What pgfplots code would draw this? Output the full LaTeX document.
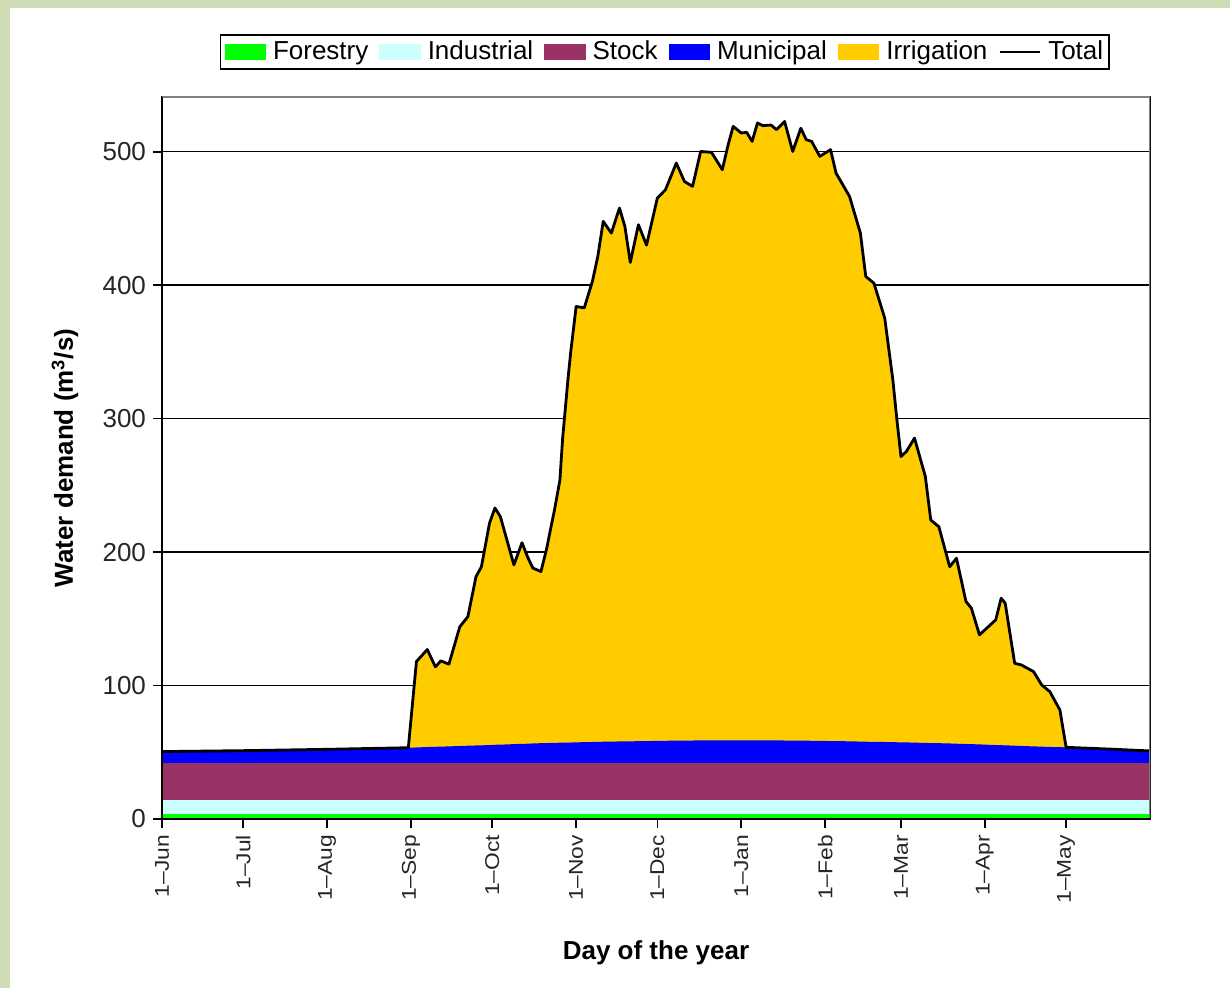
\documentclass[border=0pt]{standalone}
\usepackage{fontspec}
\setmainfont{Liberation Sans}
\usepackage{graphicx}
\usepackage{pgfplots}
\usepackage{pgfplotstable}
\pgfplotsset{compat=1.18}
\definecolor{bgframe}{HTML}{CFDCB6}
\definecolor{forest}{HTML}{00FF00}
\definecolor{indus}{HTML}{CCFFFF}
\definecolor{stock}{HTML}{993366}
\definecolor{munic}{HTML}{0000FF}
\definecolor{irrig}{HTML}{FFCC00}
% cumulative tops: mun = forestry+industrial+stock+municipal, total = all incl. irrigation
\pgfplotstableread{
day mun total
0 50.5 50.5
30 51.2 51.2
61 52.2 52.2
91 53.4 53.4
94 53.6 118
98 53.9 127
101 54.1 114
103 54.2 118.5
106 54.4 116
110 54.7 144
113 54.9 151.6
116 55.1 181.6
118 55.2 189
121 55.4 221.7
123 55.6 233
125 55.7 226.6
130 56.1 190.4
133 56.3 207
135 56.4 196.6
137 56.6 188
140 56.8 185.4
142 56.9 201.6
144 57.0 221.7
145 57.0 231.6
147 57.2 254
148 57.2 285
150 57.3 330
151 57.3 350
153 57.4 384
156 57.6 383
159 57.7 402.8
161 57.8 421.5
163 57.9 447.8
166 58.0 439
169 58.1 457.8
171 58.1 444
173 58.2 417
176 58.3 445.3
179 58.4 430
183 58.5 465.3
186 58.6 471.5
190 58.7 491.5
193 58.8 477.7
196 58.8 474
199 58.9 500.2
203 58.9 499.5
207 59.0 486.5
209 59.0 504
211 59.0 519
214 59.0 514
216 59.0 514.5
218 59.0 507.7
220 59.0 521.5
222 58.9 519.5
225 58.9 520
227 58.9 516.5
230 58.8 522.7
233 58.8 500.2
236 58.7 517.6
238 58.7 509
240 58.6 507.7
243 58.6 496.5
247 58.4 501.5
249 58.4 484
254 58.2 466.5
258 58.0 439
260 57.9 406.5
263 57.8 401.5
267 57.7 375.3
270 57.6 329
271.5 57.5 299
273 57.5 271.6
275 57.4 275.4
278 57.2 285.4
282 57.0 256.6
284 56.9 224
287 56.8 219
291 56.6 189
293.5 56.4 195.4
297 56.2 163
299 56.1 158
302 55.9 138
308 55.4 149.2
310 55.3 165.4
311.5 55.2 161.7
315 54.9 116.7
317.5 54.7 115.4
322 54.4 110.4
325 54.2 100.4
328 54.0 95.4
331.7 53.8 81.7
334 53.7 53.7
350 52.4 52.4
365 51.0 51.0
}\demand
\newcommand{\xl}[1]{\scalebox{1.14}[1]{#1}}
\begin{document}
\begin{tikzpicture}
\useasboundingbox (0,0) rectangle (615pt,494pt);
\fill[white] (0,0) rectangle (615pt,494pt);
\fill[bgframe] (0,490pt) rectangle (615pt,494pt);
\fill[bgframe] (0,0) rectangle (5pt,494pt);
\begin{axis}[
  at={(81pt,84.5pt)}, anchor=south west,
  scale only axis, width=494pt, height=361pt,
  xmin=0, xmax=365, ymin=0, ymax=541,
  xtick={0,30,61,92,122,153,183,214,245,273,304,334},
  xticklabels={\xl{1--Jun},\xl{1--Jul},\xl{1--Aug},\xl{1--Sep},\xl{1--Oct},\xl{1--Nov},\xl{1--Dec},\xl{1--Jan},\xl{1--Feb},\xl{1--Mar},\xl{1--Apr},\xl{1--May}},
  ytick={0,100,200,300,400,500},
  xtick pos=left, ytick pos=left,
  /pgf/number format/assume math mode=true,
  ymajorgrids, grid style={black, line width=0.7pt},
  axis line style={black, line width=0.8pt},
  tick align=outside,
  major tick length=4.5pt,
  xtick style={black, line width=0.8pt},
  ytick style={black, line width=0.8pt},
  xticklabel style={rotate=90, anchor=east, font=\fontsize{10}{12}\selectfont, color=black!85},
  yticklabel style={font=\fontsize{13}{15}\selectfont, color=black!85},
  xlabel={\bfseries Day of the year},
  ylabel={\bfseries Water demand (m\textsuperscript{3}/s)},
  xlabel style={at={(axis description cs:0.5,-0.1856)}, anchor=center, font=\fontsize{13}{15}\selectfont},
  ylabel style={at={(axis description cs:-0.0982,0.5)}, anchor=center, font=\fontsize{13}{15}\selectfont},
  legend columns=6,
  legend style={at={(axis description cs:0.509,1.0623)}, anchor=center,
    draw=black, line width=0.7pt, font=\fontsize{13}{15}\selectfont,
    inner sep=2pt, row sep=0pt, nodes={inner sep=1pt},
    /tikz/every odd column/.append style={column sep=2.5pt},
    /tikz/every even column/.append style={column sep=4.5pt}},
]
\addlegendimage{legend image code/.code={\fill[forest] (0pt,-3.5pt) rectangle (20pt,3.5pt);}}
\addlegendentry{Forestry}
\addlegendimage{legend image code/.code={\fill[indus] (0pt,-3.5pt) rectangle (20pt,3.5pt);}}
\addlegendentry{Industrial}
\addlegendimage{legend image code/.code={\fill[stock] (0pt,-3.5pt) rectangle (20pt,3.5pt);}}
\addlegendentry{Stock}
\addlegendimage{legend image code/.code={\fill[munic] (0pt,-3.5pt) rectangle (20pt,3.5pt);}}
\addlegendentry{Municipal}
\addlegendimage{legend image code/.code={\fill[irrig] (0pt,-3.5pt) rectangle (20pt,3.5pt);}}
\addlegendentry{Irrigation}
\addlegendimage{legend image code/.code={\draw[black, line width=1.4pt] (0pt,0pt) -- (20pt,0pt);}}
\addlegendentry{Total}
\addplot[fill=irrig, draw=none, forget plot] table[x=day, y=total]{\demand} \closedcycle;
\addplot[fill=munic, draw=none, forget plot] table[x=day, y=mun]{\demand} \closedcycle;
\addplot[fill=stock, draw=none, forget plot] coordinates {(0,42) (365,42)} \closedcycle;
\addplot[fill=indus, draw=none, forget plot] coordinates {(0,14) (365,14)} \closedcycle;
\addplot[fill=forest, draw=none, forget plot] coordinates {(0,3.5) (365,3.5)} \closedcycle;
\addplot[black, line width=1.4pt, line join=round, forget plot] table[x=day, y=total]{\demand};
\draw[black!50, line width=0.8pt] (rel axis cs:0,1) -- (rel axis cs:1,1) -- (rel axis cs:1,0);
\draw[black, line width=0.8pt] (rel axis cs:0,1) -- (rel axis cs:0,0) -- (rel axis cs:1,0);
\end{axis}
\end{tikzpicture}
\end{document}
